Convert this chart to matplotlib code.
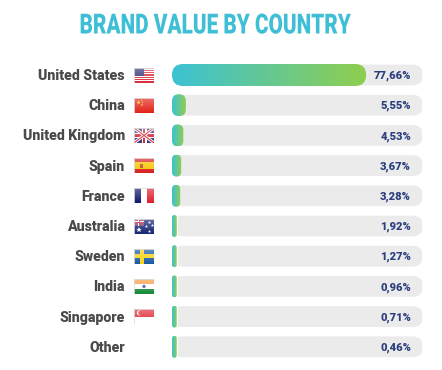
import numpy as np
import matplotlib
matplotlib.use('Agg')
import matplotlib.pyplot as plt
from matplotlib.patches import FancyBboxPatch, Rectangle, Circle
from matplotlib.patheffects import AbstractPathEffect
from matplotlib.transforms import Affine2D

# Data
countries = ['United States', 'China', 'United Kingdom', 'Spain', 'France',
             'Australia', 'Sweden', 'India', 'Singapore', 'Other']
values = [77.66, 5.55, 4.53, 3.67, 3.28, 1.92, 1.27, 0.96, 0.71, 0.46]
value_labels = ['77,66%', '5,55%', '4,53%', '3,67%', '3,28%',
                '1,92%', '1,27%', '0,96%', '0,71%', '0,46%']
flag_keys = ['us', 'cn', 'uk', 'es', 'fr', 'au', 'se', 'in', 'sg', None]

W, H = 442, 370
ROW_PX = 30.2
MIN_BAR = 1.9  # short bars never get thinner than this
PX_X = 2.5  # pixels per percent
TEAL = np.array([0x3c, 0xc2, 0xd4]) / 255
GREEN = np.array([0x8f, 0xce, 0x4e]) / 255


class Squeeze(AbstractPathEffect):
    # no condensed font installed, so squeeze the title around its centre
    def __init__(self, cx, sx):
        super().__init__()
        self.cx, self.sx = cx, sx

    def draw_path(self, renderer, gc, tpath, affine, rgbFace=None):
        t = affine + Affine2D().translate(-self.cx, 0).scale(self.sx, 1).translate(self.cx, 0)
        renderer.draw_path(gc, tpath, t, rgbFace)


fig = plt.figure(figsize=(W / 100, H / 100), dpi=100, facecolor='white')

# Axes: x in percent, y in rows
top = 75 - ROW_PX / 2
height = ROW_PX * len(countries)
ax = fig.add_axes([172 / W, 1 - (top + height) / H, 250 / W, height / H])
ax.axis('off')

aspect = (1 / ROW_PX) / (1 / PX_X)  # y data units per x data unit, for round corners
BAR_H = 22 / ROW_PX
TRACK_H = 20.8 / ROW_PX


def pill(x_end, row, bar_h=BAR_H, **kw):
    r = min(bar_h / 2 / aspect, x_end / 2)
    return FancyBboxPatch((0, row - bar_h / 2), x_end, bar_h,
                          boxstyle=f'round,pad=0,rounding_size={r}',
                          mutation_aspect=aspect, linewidth=0, **kw)


grad = np.linspace(0, 1, 256)[None, :, None]
grad = TEAL[None, None, :] * (1 - grad) + GREEN[None, None, :] * grad

for i, (v, lab) in enumerate(zip(values, value_labels)):
    ax.add_patch(pill(100.4, i, bar_h=TRACK_H, facecolor='#ebebeb', zorder=1))
    w = max(v, MIN_BAR)
    if w < 2:
        # thin bars have a small white gap before the grey track
        ax.add_patch(Rectangle((0, i - BAR_H / 2), w + 0.5, BAR_H, facecolor='white', lw=0, zorder=1.5))
    im = ax.imshow(grad, extent=(0, w, i + BAR_H / 2, i - BAR_H / 2),
                   aspect='auto', zorder=2, interpolation='bilinear')
    clip = pill(w, i, facecolor='none', zorder=2)
    ax.add_patch(clip)
    im.set_clip_path(clip)
    ax.text(95.6, i + 0.03, lab, ha='right', va='center', fontsize=8,
            fontweight='black', family='Roboto', color='#2c3f7f', zorder=3)
    fig.text(125 / W, 1 - (76 + i * ROW_PX) / H, countries[i], ha='right', va='center',
             fontsize=10.2, fontweight='black', family='Roboto', color='#4a4a4a')

ax.set_xlim(0, 100)
ax.set_ylim(len(countries) - 0.5, -0.5)

fig.text(215 / W, 1 - 26 / H, 'BRAND VALUE BY COUNTRY', ha='center', va='center',
         fontsize=20, fontweight='black', family='Roboto', color='#3ebfd6',
         path_effects=[Squeeze(215, 274 / 367)])


def draw_flag(a, key):
    rect = lambda x, y, w, h, c: a.add_patch(Rectangle((x, y), w, h, color=c, lw=0))
    if key == 'us':
        for k in range(7):
            rect(0, k * 2 * 15 / 13, 20, 15 / 13, '#d8323c')
        rect(0, 15 / 13 * 6, 10, 15 / 13 * 7, '#3c3b7e')
    elif key == 'cn':
        rect(0, 0, 20, 15, '#e2231a')
        a.plot([3.5], [11], marker='*', ms=3.5, color='#f5d020', mew=0)
        for px, py in [(7, 13), (8, 11), (8, 9), (7, 7.5)]:
            a.plot([px], [py], marker='*', ms=1.5, color='#f5d020', mew=0)
    elif key == 'uk':
        rect(0, 0, 20, 15, '#2b3a80')
        a.plot([0, 20], [0, 15], color='white', lw=2.2)
        a.plot([0, 20], [15, 0], color='white', lw=2.2)
        a.plot([0, 20], [0, 15], color='#d22234', lw=0.8)
        a.plot([0, 20], [15, 0], color='#d22234', lw=0.8)
        rect(7.5, 0, 5, 15, 'white')
        rect(0, 5, 20, 5, 'white')
        rect(8.7, 0, 2.6, 15, '#d22234')
        rect(0, 6.2, 20, 2.6, '#d22234')
    elif key == 'es':
        rect(0, 0, 20, 15, '#d8201f')
        rect(0, 3.75, 20, 7.5, '#f7c600')
        rect(5.5, 5.5, 3, 4, '#b5482a')
    elif key == 'fr':
        rect(0, 0, 7, 15, '#101a6e')
        rect(7, 0, 6, 15, 'white')
        rect(13, 0, 7, 15, '#e0202f')
    elif key == 'au':
        rect(0, 0, 20, 15, '#1a2a78')
        rect(0, 7.5, 10, 7.5, '#7d4a78')
        rect(4, 7.5, 2, 7.5, 'white')
        rect(0, 10.2, 10, 2, 'white')
        rect(4.5, 7.5, 1, 7.5, '#d22234')
        rect(0, 10.7, 10, 1, '#d22234')
        for px, py, s in [(5, 3.5, 4), (15, 12, 2.5), (15, 2.5, 2.5), (12, 7.5, 2.5), (18, 8.5, 2.5)]:
            a.plot([px], [py], marker='*', ms=s, color='white', mew=0)
    elif key == 'se':
        rect(0, 0, 20, 15, '#1a5aa6')
        rect(6, 0, 3.5, 15, '#f7d417')
        rect(0, 5.8, 20, 3.5, '#f7d417')
    elif key == 'in':
        rect(0, 10, 20, 5, '#f79a3e')
        rect(0, 5, 20, 5, 'white')
        rect(0, 0, 20, 5, '#178a3a')
        a.add_patch(Circle((10, 7.5), 1.6, color='#3a4a90', lw=0))
    elif key == 'sg':
        rect(0, 7.5, 20, 7.5, '#e02a34')
        rect(0, 0, 20, 7.5, 'white')
        a.add_patch(Circle((5.5, 11.2), 2.6, color='white', lw=0))
        a.add_patch(Circle((6.6, 11.2), 2.4, color='#e02a34', lw=0))
    # glossy highlight at the top of every flag
    sheen = np.zeros((32, 1, 4))
    sheen[..., :3] = 1
    sheen[:, 0, 3] = np.linspace(0.35, 0, 32)
    a.imshow(sheen, extent=(0, 20, 0, 15), aspect='auto', zorder=5)
    a.add_patch(Rectangle((0, 0), 20, 15, fill=False, edgecolor='#dddddd', lw=0.6, zorder=6))
    a.set_xlim(0, 20)
    a.set_ylim(0, 15)
    a.axis('off')


for i, key in enumerate(flag_keys):
    if key is None:
        continue
    cy = 75 + i * ROW_PX
    fa = fig.add_axes([134 / W, 1 - (cy + 7.5) / H, 20 / W, 15 / H])
    draw_flag(fa, key)

fig.savefig('out.png', dpi=100)
